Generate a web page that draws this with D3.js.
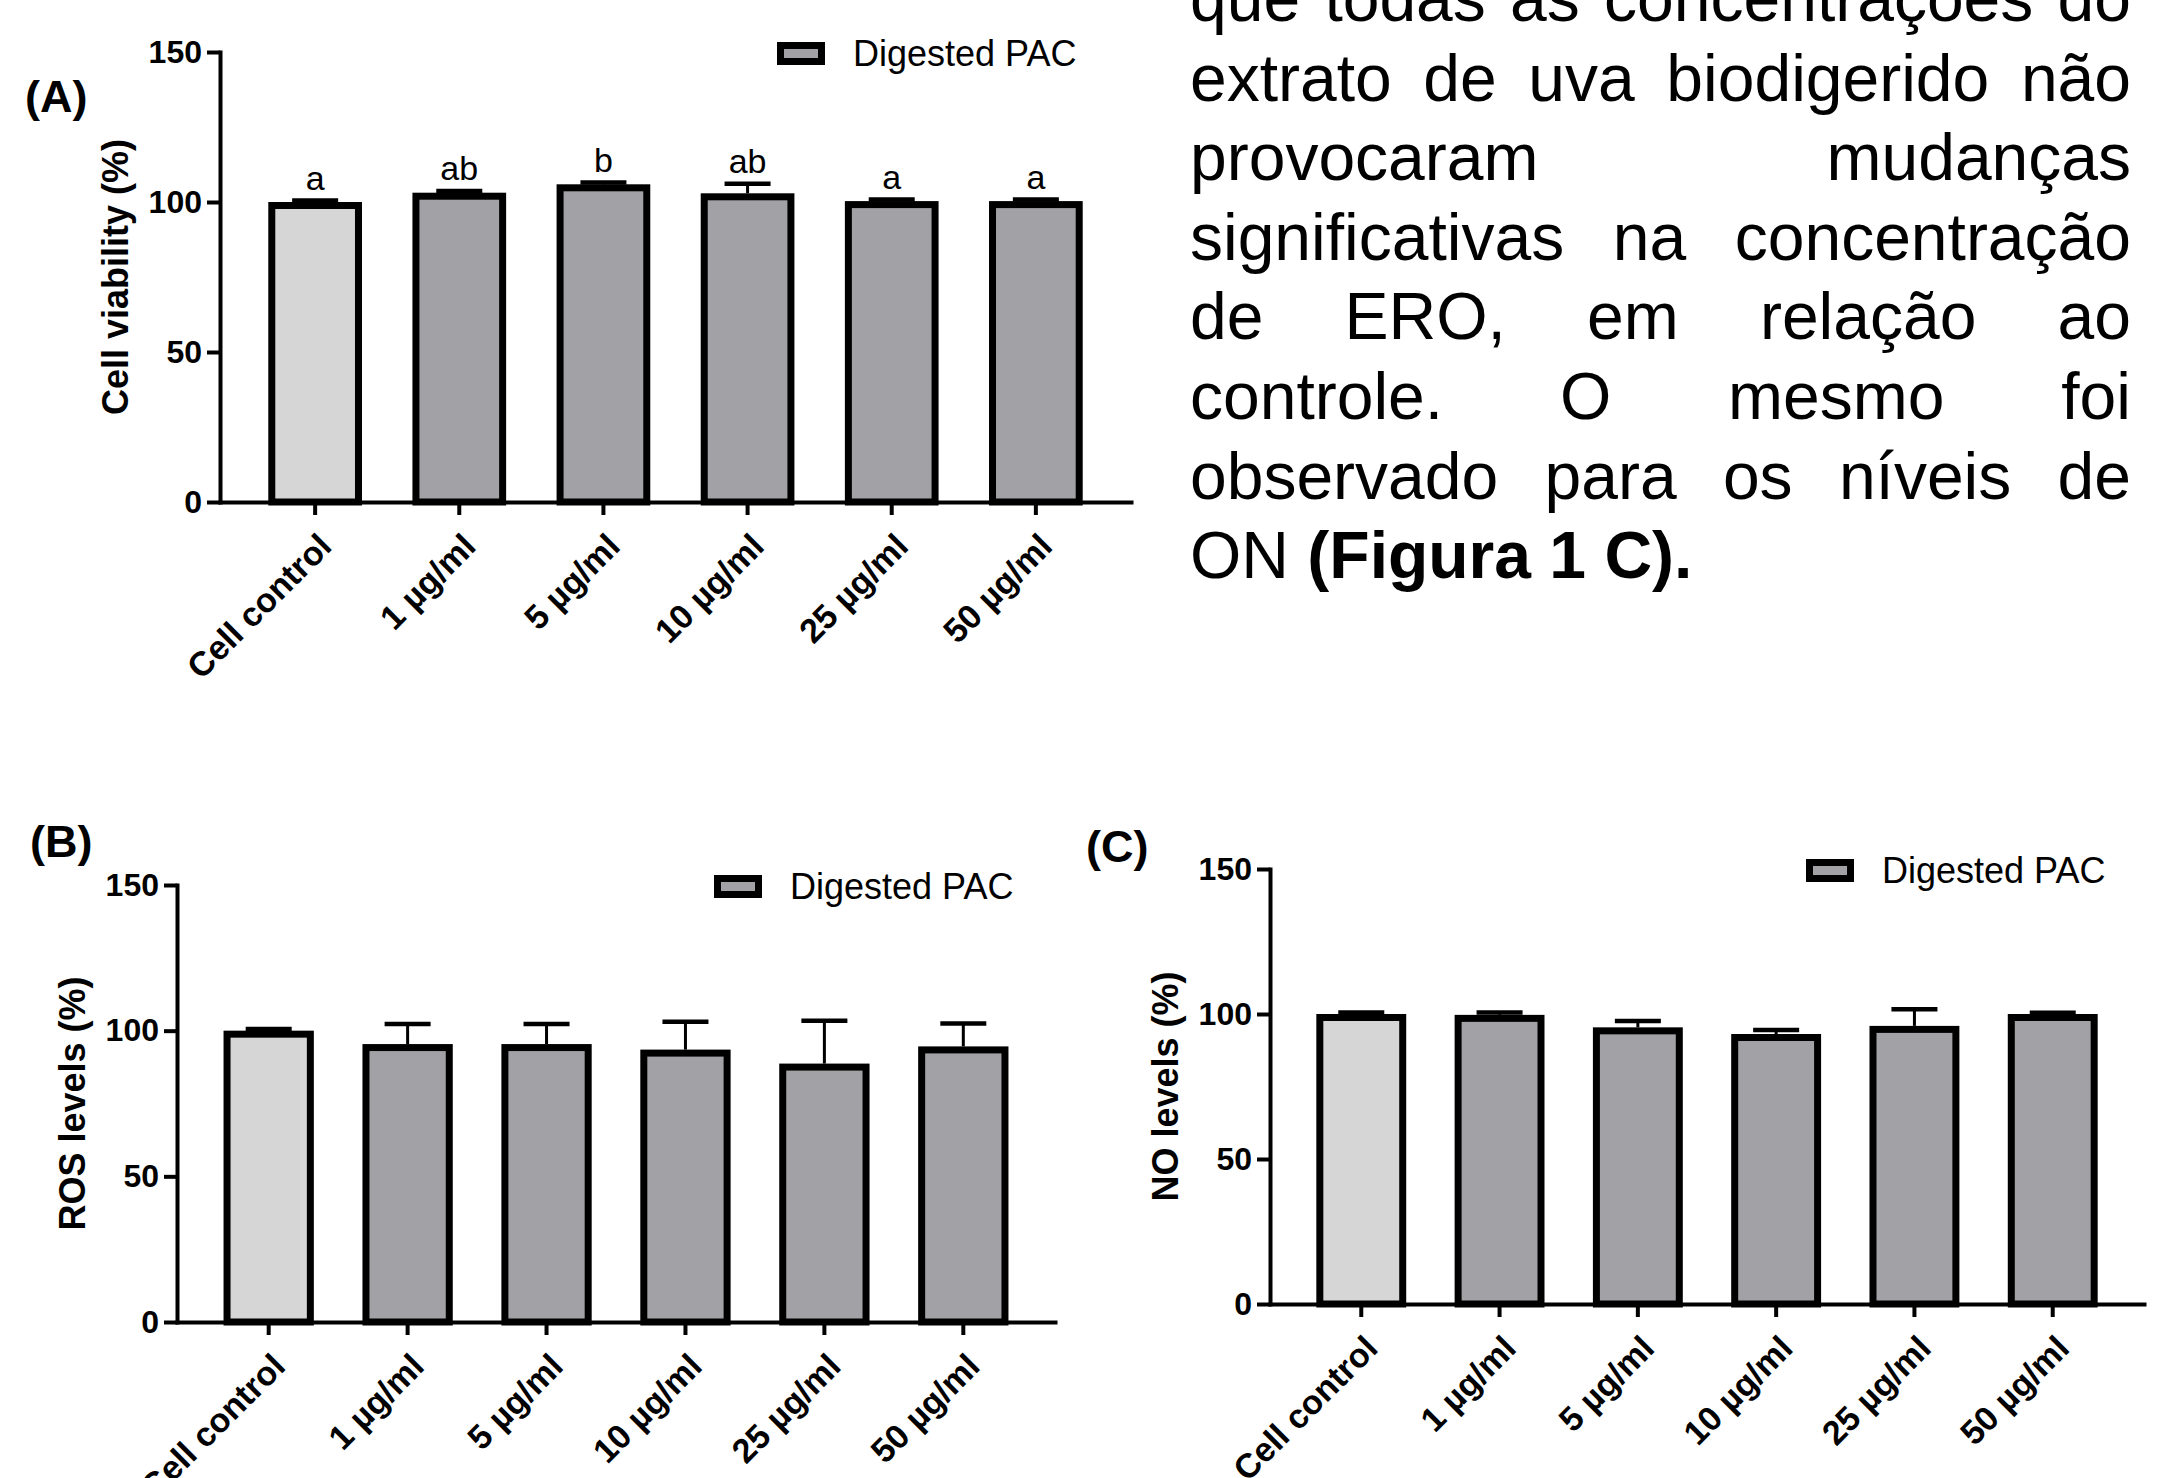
<!DOCTYPE html>
<html>
<head>
<meta charset="utf-8">
<script src="https://cdn.jsdelivr.net/npm/d3@7"></script>
<style>
  body { margin: 0; background: #fff; }
  svg { display: block; font-family: "Liberation Sans", Arial, Helvetica, sans-serif; }
</style>
</head>
<body>
<svg id="fig" width="2169" height="1478"></svg>
<script>
// shared by the three panels
var categories = ['Cell control', '1 µg/ml', '5 µg/ml', '10 µg/ml', '25 µg/ml', '50 µg/ml'];
var yTicks = [0, 50, 100, 150];
var legendLabel = 'Digested PAC';

// (A) cell viability
var viabilityMean = [100, 103.1, 105.9, 102.9, 100.3, 100.3];
var viabilityErr = [0.5, 0.6, 0.6, 3.2, 0.5, 0.5];
var viabilityLetters = ['a', 'ab', 'b', 'ab', 'a', 'a'];

// (B) ROS levels
var rosMean = [100, 95.4, 95.4, 93.5, 88.7, 94.6];
var rosErr = [0.6, 6.9, 6.9, 9.6, 14.7, 7.9];

// (C) NO levels
var noMean = [100, 99.7, 95.4, 93.1, 95.9, 100];
var noErr = [0.5, 0.8, 2.2, 1.4, 5.7, 0.4];

// text column on the right
var paragraphLines = [
  'que todas as concentrações do',
  'extrato de uva biodigerido não',
  'provocaram mudanças',
  'significativas na concentração',
  'de ERO, em relação ao',
  'controle. O mesmo foi',
  'observado para os níveis de'
];
var lastLineRegular = 'ON ';
var lastLineBold = '(Figura 1 C).';

var svg = d3.select('#fig');
var barStroke = 7;

function drawPanel(p) {
  var x = d3.scaleBand()
    .domain(categories)
    .range([p.left, p.right])
    .paddingInner(0.35)
    .paddingOuter(0.335);
  var y = d3.scaleLinear().domain([0, 150]).range([p.bottom, p.top]);
  var g = svg.append('g');
  var cx = function(i) { return x(categories[i]) + x.bandwidth() / 2; };

  // error bars (drawn first, bar outline covers the stem foot)
  g.selectAll('line.stem').data(p.mean).enter().append('line')
    .attr('x1', function(d, i) { return cx(i); })
    .attr('x2', function(d, i) { return cx(i); })
    .attr('y1', function(d) { return y(d); })
    .attr('y2', function(d, i) { return y(d + p.err[i]); })
    .attr('stroke', '#000').attr('stroke-width', 3);
  g.selectAll('line.cap').data(p.mean).enter().append('line')
    .attr('x1', function(d, i) { return cx(i) - 23; })
    .attr('x2', function(d, i) { return cx(i) + 23; })
    .attr('y1', function(d, i) { return y(d + p.err[i]); })
    .attr('y2', function(d, i) { return y(d + p.err[i]); })
    .attr('stroke', '#000').attr('stroke-width', 4.5);

  // bars, outline drawn inside the value
  g.selectAll('rect.bar').data(p.mean).enter().append('rect')
    .attr('x', function(d, i) { return x(categories[i]) + barStroke / 2; })
    .attr('y', function(d) { return y(d) + barStroke / 2; })
    .attr('width', x.bandwidth() - barStroke)
    .attr('height', function(d) { return y(0) - y(d) - barStroke / 2; })
    .attr('fill', function(d, i) { return i === 0 ? '#d6d6d6' : '#a2a2a6'; })
    .attr('stroke', '#000')
    .attr('stroke-width', barStroke);

  // significance letters
  if (p.letters) {
    g.selectAll('text.letter').data(p.letters).enter().append('text')
      .attr('x', function(d, i) { return cx(i); })
      .attr('y', function(d, i) { return y(p.mean[i] + p.err[i]) - 11; })
      .attr('text-anchor', 'middle')
      .style('font-size', '34px')
      .text(function(d) { return d; });
  }

  // y axis
  var yAxis = g.append('g')
    .attr('transform', 'translate(' + p.left + ',0)')
    .call(d3.axisLeft(y).tickValues(yTicks).tickSize(13).tickSizeOuter(0).tickPadding(5));
  yAxis.select('.domain').attr('stroke-width', 4).attr('stroke-linecap', 'square');
  yAxis.selectAll('.tick line').attr('stroke-width', 4);
  yAxis.selectAll('.tick text')
    .attr('fill', '#000')
    .style('font-family', '"Liberation Sans", Arial, sans-serif')
    .style('font-weight', 'bold')
    .style('font-size', '32px');

  // x axis
  var xAxis = g.append('g')
    .attr('transform', 'translate(0,' + p.bottom + ')')
    .call(d3.axisBottom(x).tickSize(13).tickSizeOuter(0).tickFormat(''));
  xAxis.select('.domain').attr('stroke-width', 4).attr('stroke-linecap', 'square');
  xAxis.selectAll('.tick line').attr('stroke-width', 4);

  g.selectAll('text.xlab').data(categories).enter().append('text')
    .attr('transform', function(d, i) {
      return 'translate(' + (cx(i) + 10) + ',' + (p.bottom + 38) + ') rotate(-45)';
    })
    .attr('text-anchor', 'end')
    .attr('dy', '0.35em')
    .style('font-weight', 'bold')
    .style('font-size', '34px')
    .text(function(d) { return d; });

  // y title
  g.append('text')
    .attr('transform', 'translate(' + (p.left - 105) + ',' + ((p.top + p.bottom) / 2) + ') rotate(-90)')
    .attr('text-anchor', 'middle')
    .attr('dy', '0.35em')
    .style('font-weight', 'bold')
    .style('font-size', '36px')
    .text(p.yTitle);

  // panel tag
  g.append('text')
    .attr('x', p.tagX).attr('y', p.tagY)
    .style('font-weight', 'bold')
    .style('font-size', '45px')
    .text(p.tag);

  // legend
  g.append('rect')
    .attr('x', p.legendX + barStroke / 2)
    .attr('y', p.top - 10 + barStroke / 2)
    .attr('width', 48 - barStroke)
    .attr('height', 23 - barStroke)
    .attr('fill', '#a2a2a6')
    .attr('stroke', '#000')
    .attr('stroke-width', barStroke);
  g.append('text')
    .attr('x', p.legendX + 76)
    .attr('y', p.top + 14)
    .style('font-size', '36px')
    .text(legendLabel);
}

drawPanel({
  left: 220, right: 1131, top: 52, bottom: 502,
  mean: viabilityMean, err: viabilityErr, letters: viabilityLetters,
  yTitle: 'Cell viability (%)', tag: '(A)', tagX: 25, tagY: 112, legendX: 777
});
drawPanel({
  left: 177, right: 1055, top: 885, bottom: 1322,
  mean: rosMean, err: rosErr,
  yTitle: 'ROS levels (%)', tag: '(B)', tagX: 30, tagY: 857, legendX: 714
});
drawPanel({
  left: 1270, right: 2144, top: 869, bottom: 1304,
  mean: noMean, err: noErr,
  yTitle: 'NO levels (%)', tag: '(C)', tagX: 1086, tagY: 862, legendX: 1806
});

// justified paragraph
var textLeft = 1190, textRight = 2131, lineGap = 79.6, firstBase = 21;
var para = svg.append('g').style('font-size', '66px');
paragraphLines.forEach(function(line, li) {
  var words = line.split(' ');
  var base = firstBase + li * lineGap;
  var nodes = words.map(function(w) {
    return para.append('text').attr('y', base).text(w);
  });
  var widths = nodes.map(function(n) { return n.node().getComputedTextLength(); });
  var total = d3.sum(widths);
  var gap = (textRight - textLeft - total) / (words.length - 1);
  var pos = textLeft;
  nodes.forEach(function(n, i) {
    n.attr('x', pos);
    pos += widths[i] + gap;
  });
});
var last = para.append('text')
  .attr('x', textLeft)
  .attr('y', firstBase + paragraphLines.length * lineGap);
last.append('tspan').text(lastLineRegular);
last.append('tspan').style('font-weight', 'bold').text(lastLineBold);
</script>
</body>
</html>
